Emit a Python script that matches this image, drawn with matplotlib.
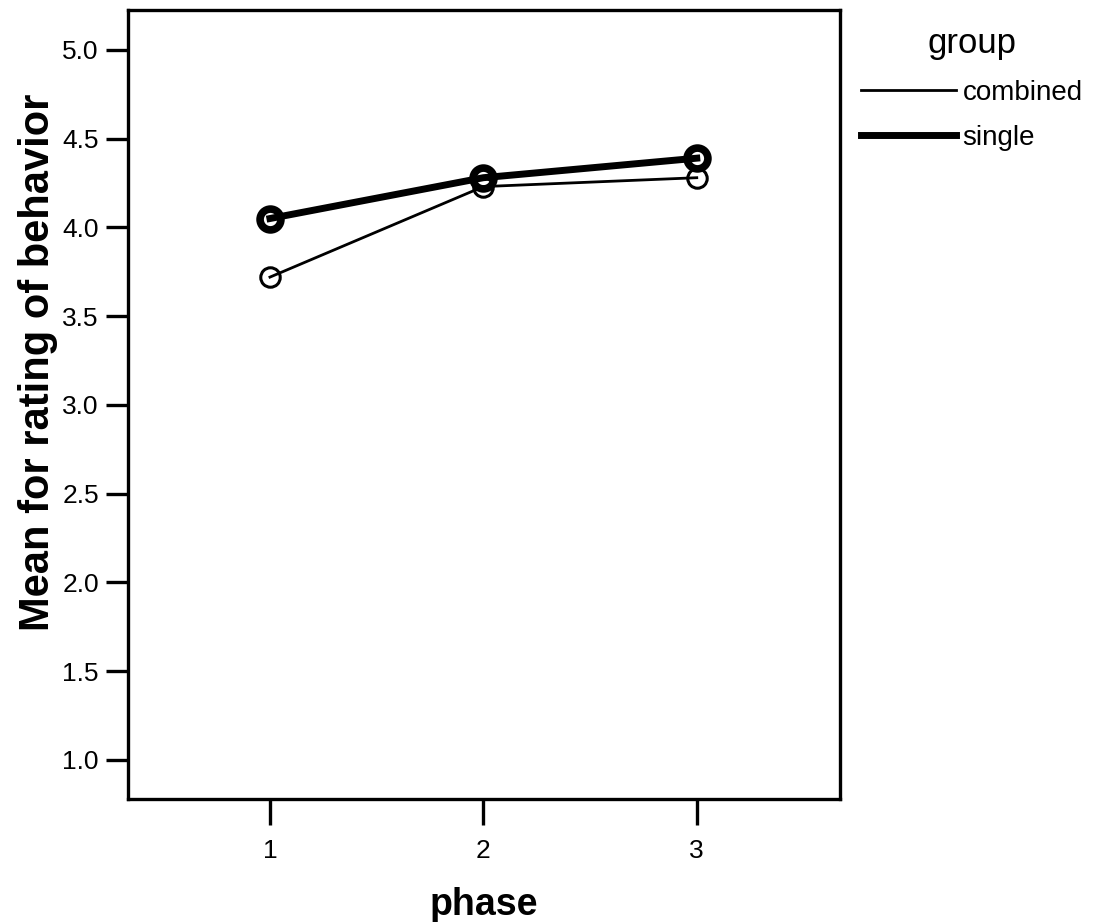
import matplotlib
matplotlib.use("Agg")
import matplotlib.pyplot as plt

plt.rcParams['font.family'] = ['Liberation Sans', 'DejaVu Sans']

phases = [1, 2, 3]
combined = [3.72, 4.23, 4.28]
single = [4.05, 4.28, 4.39]
y_ticks = [1.0, 1.5, 2.0, 2.5, 3.0, 3.5, 4.0, 4.5, 5.0]

fig = plt.figure(figsize=(11, 9.22), dpi=100)
ax = fig.add_axes([0.1164, 0.1334, 0.647, 0.8558])

ax.plot(phases, combined, color="black", linewidth=2.0, marker="o",
        markersize=14, markerfacecolor="none", markeredgewidth=2.2,
        label="combined")
ax.plot(phases, single, color="black", linewidth=5.0, marker="o",
        markersize=15, markerfacecolor="none", markeredgewidth=5.5,
        label="single")

ax.set_xlim(0.335, 3.67)
ax.set_ylim(0.78, 5.225)
ax.set_xticks(phases)
ax.set_xticklabels([str(p) for p in phases])
ax.set_yticks(y_ticks)
ax.set_yticklabels(["%.1f" % v for v in y_ticks])

for side in ax.spines.values():
    side.set_linewidth(2.4)
ax.tick_params(axis="both", direction="out", width=2.4, labelsize=19)
ax.tick_params(axis="y", length=16, pad=5)
ax.tick_params(axis="x", length=19, pad=10)

ax.set_xlabel("phase", fontsize=27, fontweight="bold", labelpad=17)
ax.set_ylabel("Mean for rating of behavior", fontsize=30, fontweight="bold")
ax.yaxis.set_label_coords(-0.098, 0.554)

leg = ax.legend(loc="upper left", bbox_to_anchor=(0.995, 1.01), frameon=False,
                title="group", fontsize=20, title_fontsize=25,
                handlelength=3.4, handletextpad=0.25, labelspacing=0.7)
for line in leg.get_lines():
    line.set_marker("")

plt.savefig("out.png", dpi=100)
